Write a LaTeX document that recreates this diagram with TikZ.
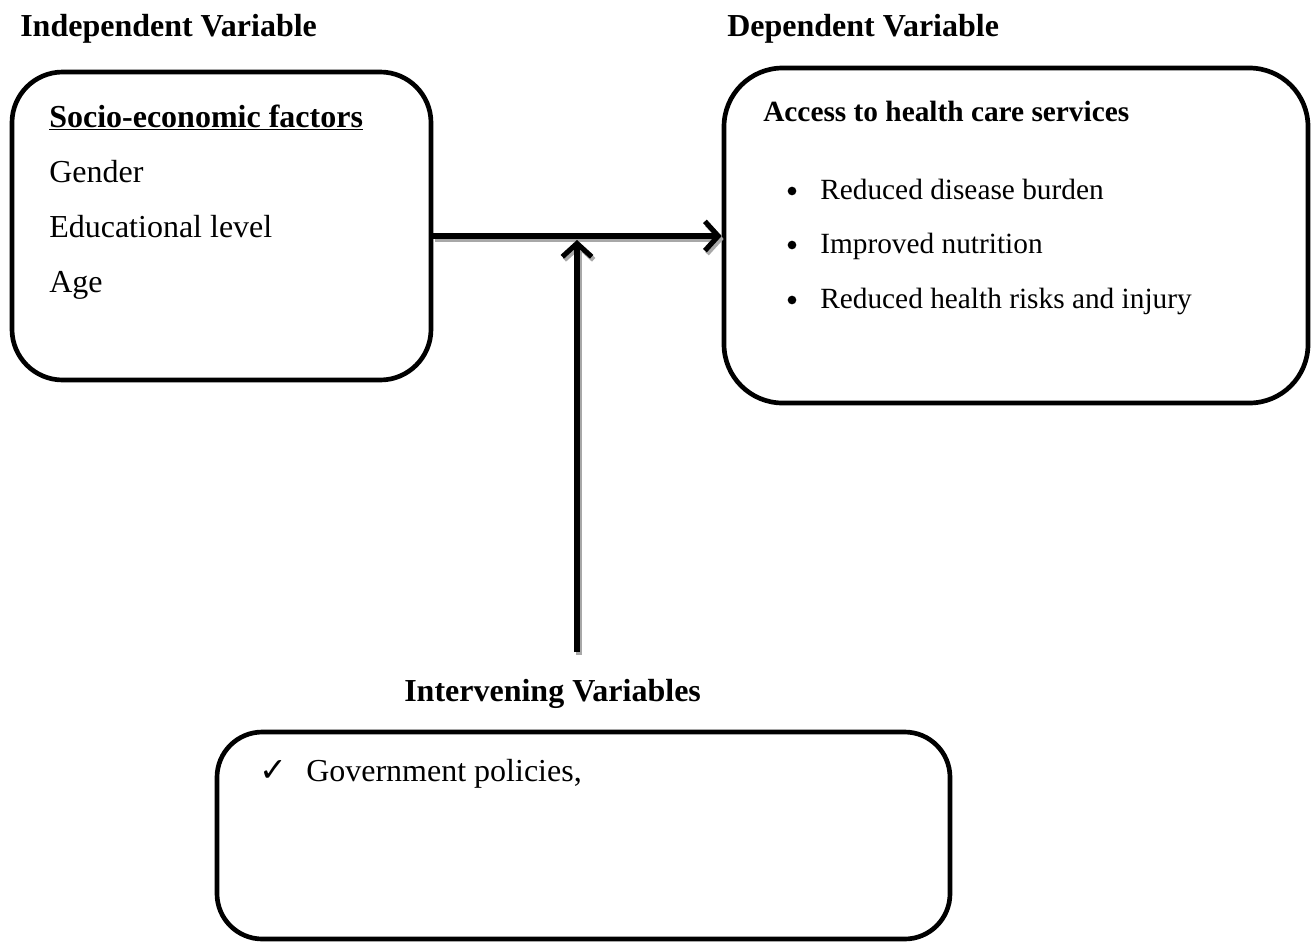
\documentclass[tikz,border=0pt]{standalone}
\usepackage{fontspec}
\setmainfont{Liberation Serif}
\newfontfamily\symfont{DejaVu Sans}
\usetikzlibrary{arrows.meta}
\definecolor{shadowgray}{HTML}{A8A8A8}
\tikzset{
  varbox/.style={draw=black, line width=3.5pt, rectangle, inner sep=0pt, fill=white},
  bigtxt/.style={anchor=base west, inner sep=0pt, font=\fontsize{24}{28}\selectfont},
  headtxt/.style={anchor=base west, inner sep=0pt, font=\fontsize{24}{28}\selectfont\bfseries},
  smalltxt/.style={anchor=base west, inner sep=0pt, font=\fontsize{22}{26}\selectfont},
  bulletdot/.style={circle, fill=black, inner sep=0pt, minimum size=6.5pt},
  flow/.style={line width=3.8pt, -{Straight Barb[length=10pt, width=22pt, line width=3.8pt]}},
  flowshadow/.style={line width=3.8pt, draw=shadowgray, -{Straight Barb[length=10pt, width=22pt, line width=3.8pt]}}
}
\begin{document}
\begin{tikzpicture}[x=0.75pt, y=-0.75pt]
\useasboundingbox (0,0) rectangle (1316,943);

% headings
\node[headtxt] (hind) at (20,36) {Independent Variable};
\node[headtxt] (hdep) at (727,36) {Dependent Variable};

% boxes
\node[varbox, rounded corners=38pt, minimum width=314.25pt, minimum height=231pt] (L) at (221.5,226) {};
\node[varbox, rounded corners=44pt, minimum width=438pt, minimum height=251.25pt] (R) at (1016,235.5) {};
\node[varbox, rounded corners=34pt, minimum width=549.75pt, minimum height=155.25pt] (B) at (583.5,835.5) {};

% left box text
\node[headtxt] (lt) at (49,127) {\underline{Socio-economic factors}};
\node[bigtxt] (l1) at (49,182) {Gender};
\node[bigtxt] (l2) at (49,237) {Educational level};
\node[bigtxt] (l3) at (49,292) {Age};

% right box text
\node[smalltxt, font=\fontsize{22}{26}\selectfont\bfseries] (rt) at (763,121) {Access to health care services};
\node[bulletdot] (b1) at (792,191) {};
\node[smalltxt] (r1) at (820,199) {Reduced disease burden};
\node[bulletdot] (b2) at (792,245) {};
\node[smalltxt] (r2) at (820,253) {Improved nutrition};
\node[bulletdot] (b3) at (792,300) {};
\node[smalltxt] (r3) at (820,308) {Reduced health risks and injury};

% intervening
\node[headtxt] (hint) at (404,701) {Intervening Variables};
\node[anchor=base west, inner sep=0pt, font=\fontsize{25}{28}\selectfont\symfont] (chk) at (259,781) {✓};
\node[bigtxt] (g1) at (306,781) {Government policies,};

% connectors
\coordinate (M) at (577,236);
\coordinate (Vs) at (577,652);
\coordinate (Mt) at (577,240);
\draw[flowshadow] ([xshift=1.5pt,yshift=-2.25pt]L.east |- M) -- ([xshift=1.5pt,yshift=-2.25pt]R.west |- M);
\draw[flowshadow] ([xshift=1.5pt,yshift=-2.25pt]Vs) -- ([xshift=1.5pt,yshift=-2.25pt]Mt);
\draw[flow] (L.east |- M) -- (R.west |- M);
\draw[flow] (Vs) -- (Mt);
\end{tikzpicture}
\end{document}
